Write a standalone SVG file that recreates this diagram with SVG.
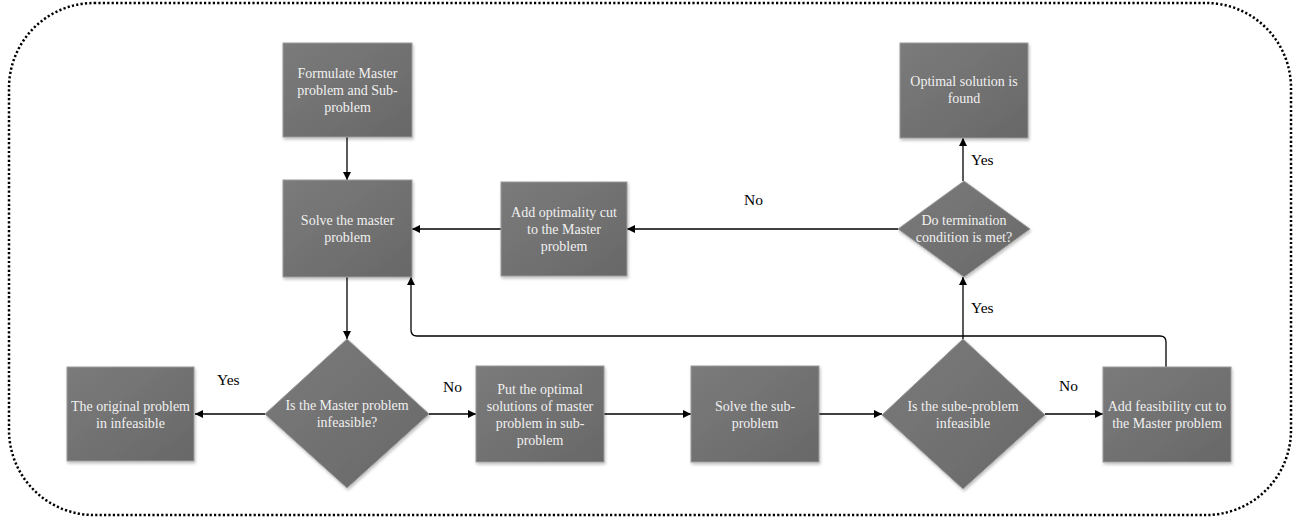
<svg xmlns="http://www.w3.org/2000/svg" width="1301" height="520" viewBox="0 0 1301 520">
<style>
.box{fill:url(#g);stroke:#9a9a9a;stroke-width:1;filter:url(#sh)}
.t{font-family:"Liberation Serif","Times New Roman",serif;font-size:14px;fill:#f0f0f0;text-anchor:middle}
.lbl{font-family:"Liberation Serif","Times New Roman",serif;font-size:15.5px;fill:#000}
.c{fill:none;stroke:#000;stroke-width:1.3}
</style>
<defs>
<linearGradient id="g" x1="0" y1="0" x2="1" y2="1">
<stop offset="0" stop-color="#7b7b7b"/>
<stop offset="1" stop-color="#686868"/>
</linearGradient>
<filter id="sh" x="-10%" y="-10%" width="125%" height="125%">
<feDropShadow dx="1" dy="2" stdDeviation="1.5" flood-color="#000" flood-opacity="0.25"/>
</filter>
<marker id="a" viewBox="0 0 10 10" refX="10" refY="5" markerWidth="8" markerHeight="8" markerUnits="userSpaceOnUse" orient="auto">
<path d="M0,0 L10,5 L0,10 z" fill="#000"/>
</marker>
</defs>
<rect x="9" y="3" width="1282" height="512" rx="85" ry="85" fill="none" stroke="#000" stroke-width="2.5" stroke-dasharray="2.2 2.2"/>
<g id="connectors">
<line class="c" x1="347" y1="137" x2="347" y2="180" marker-end="url(#a)"/>
<line class="c" x1="347" y1="277" x2="347" y2="339" marker-end="url(#a)"/>
<line class="c" x1="265" y1="414" x2="195" y2="414" marker-end="url(#a)"/>
<line class="c" x1="429" y1="414" x2="476" y2="414" marker-end="url(#a)"/>
<line class="c" x1="604" y1="414" x2="691" y2="414" marker-end="url(#a)"/>
<line class="c" x1="819" y1="414" x2="882" y2="414" marker-end="url(#a)"/>
<line class="c" x1="1045" y1="414" x2="1103" y2="414" marker-end="url(#a)"/>
<line class="c" x1="963" y1="339" x2="963" y2="277" marker-end="url(#a)"/>
<line class="c" x1="963" y1="181" x2="963" y2="138" marker-end="url(#a)"/>
<line class="c" x1="898" y1="229" x2="627" y2="229" marker-end="url(#a)"/>
<line class="c" x1="501" y1="229" x2="412" y2="229" marker-end="url(#a)"/>
<path class="c" d="M1166,367 L1166,342 Q1166,336 1160,336 L417,336 Q411,336 411,330 L411,277" marker-end="url(#a)"/>
</g>
<g id="formulate"><rect class="box" x="283" y="43" width="129" height="94"/>
<text class="t" x="347.5" y="78">Formulate Master</text><text class="t" x="347.5" y="95">problem and Sub-</text><text class="t" x="347.5" y="112">problem</text></g>
<g id="solve-master"><rect class="box" x="283" y="180" width="129" height="97"/>
<text class="t" x="347.5" y="225">Solve the master</text><text class="t" x="347.5" y="242">problem</text></g>
<g id="optimality-cut"><rect class="box" x="501" y="182" width="126" height="94"/>
<text class="t" x="564" y="217">Add optimality cut</text><text class="t" x="564" y="234">to the Master</text><text class="t" x="564" y="251">problem</text></g>
<g id="optimal-found"><rect class="box" x="900" y="43" width="128" height="95"/>
<text class="t" x="964" y="86">Optimal solution is</text><text class="t" x="964" y="103">found</text></g>
<g id="termination"><polygon class="box" points="964,181 1030,229 964,277 898,229"/>
<text class="t" x="964" y="225">Do termination</text><text class="t" x="964" y="242">condition is met?</text></g>
<g id="original-infeasible"><rect class="box" x="67" y="367" width="127" height="94"/>
<text class="t" x="130.5" y="411">The original problem</text><text class="t" x="130.5" y="428">in infeasible</text></g>
<g id="master-infeasible"><polygon class="box" points="347,339 429,414 347,488 265,414"/>
<text class="t" x="347" y="410">Is the Master problem</text><text class="t" x="347" y="427">infeasible?</text></g>
<g id="put-optimal"><rect class="box" x="476" y="366" width="128" height="96"/>
<text class="t" x="540" y="394">Put the optimal</text><text class="t" x="540" y="411">solutions of master</text><text class="t" x="540" y="428">problem in sub-</text><text class="t" x="540" y="445">problem</text></g>
<g id="solve-sub"><rect class="box" x="691" y="366" width="128" height="96"/>
<text class="t" x="755" y="411">Solve the sub-</text><text class="t" x="755" y="428">problem</text></g>
<g id="sub-infeasible"><polygon class="box" points="963,339 1045,415 963,489 882,415"/>
<text class="t" x="963" y="411">Is the sube-problem</text><text class="t" x="963" y="428">infeasible</text></g>
<g id="feasibility-cut"><rect class="box" x="1103" y="367" width="128" height="95"/>
<text class="t" x="1167" y="411">Add feasibility cut to</text><text class="t" x="1167" y="428">the Master problem</text></g>
<g id="labels">
<text class="lbl" x="217" y="385">Yes</text>
<text class="lbl" x="443" y="392">No</text>
<text class="lbl" x="1059" y="391">No</text>
<text class="lbl" x="971" y="313">Yes</text>
<text class="lbl" x="971" y="165">Yes</text>
<text class="lbl" x="744" y="205">No</text>
</g>
</svg>
